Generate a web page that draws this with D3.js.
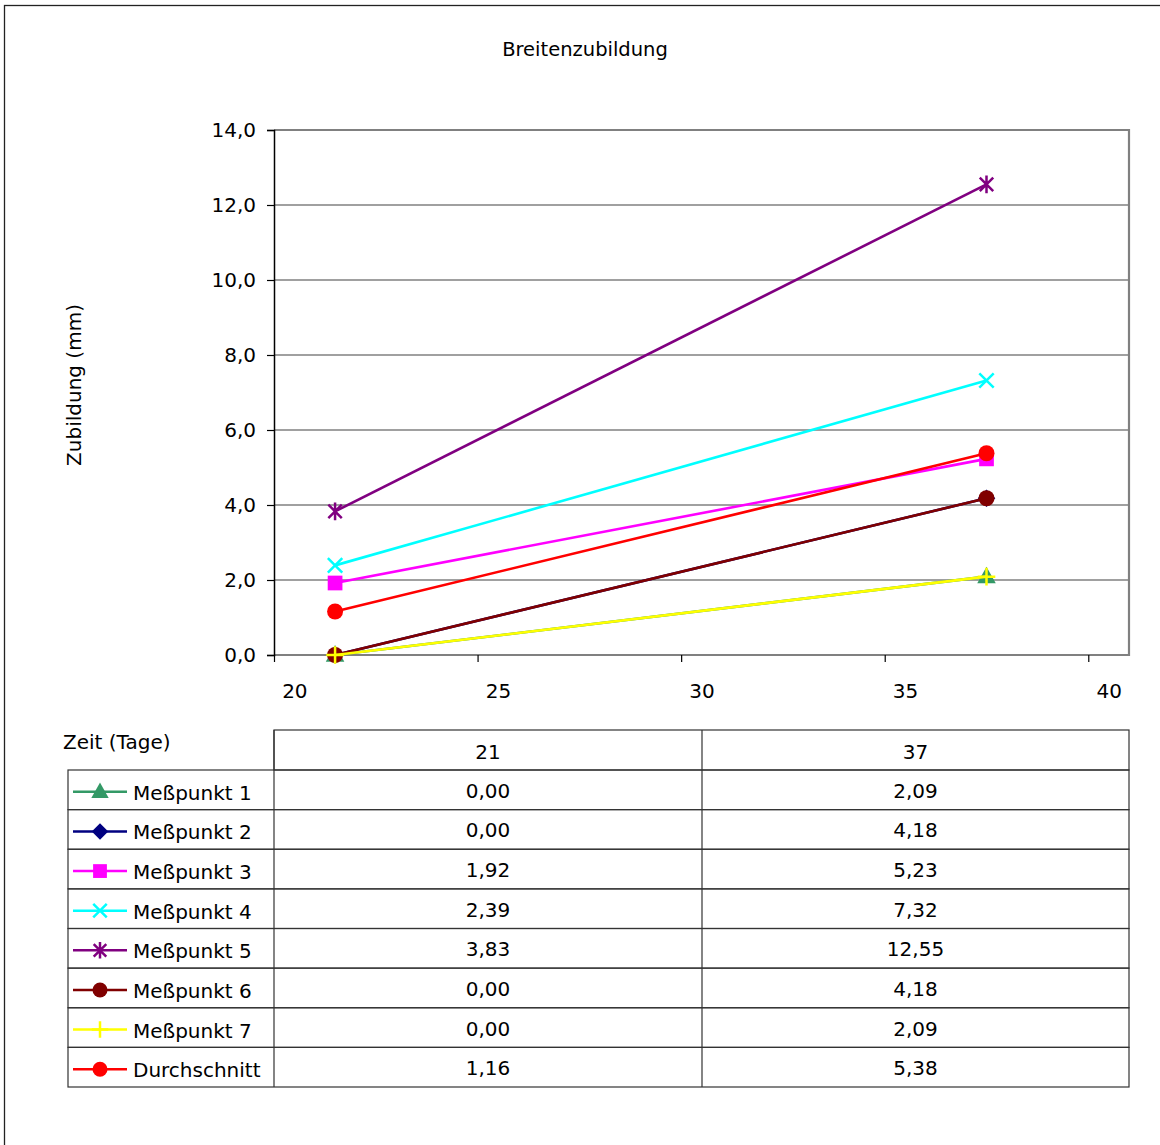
<!DOCTYPE html>
<html><head><meta charset="utf-8">
<script src="https://cdn.jsdelivr.net/npm/d3@7"></script>
<style>
body{margin:0;background:#fff;}
text{font-family:"DejaVu Sans",sans-serif;fill:#000;}
</style></head><body>
<svg id="c" width="1160" height="1145"></svg>
<script>
const days = [21, 37];
const seriesNames = ["Meßpunkt 1","Meßpunkt 2","Meßpunkt 3","Meßpunkt 4","Meßpunkt 5","Meßpunkt 6","Meßpunkt 7","Durchschnitt"];
const mp1 = [0.00, 2.09];
const mp2 = [0.00, 4.18];
const mp3 = [1.92, 5.23];
const mp4 = [2.39, 7.32];
const mp5 = [3.83, 12.55];
const mp6 = [0.00, 4.18];
const mp7 = [0.00, 2.09];
const avg = [1.16, 5.38];
const yTicks = [0,2,4,6,8,10,12,14];
const xTicks = [20,25,30,35,40];
const seriesValues = [mp1,mp2,mp3,mp4,mp5,mp6,mp7,avg];
const colors = ["#339966","#000080","#FF00FF","#00FFFF","#800080","#800000","#FFFF00","#FF0000"];
const markers = ["triangle","diamond","square","x","star","circle","plus","circle"];

const FONT = '"DejaVu Sans",sans-serif';
const svg = d3.select("#c");
const fmt1 = v => v.toFixed(1).replace(".", ",");
const fmt2 = v => v.toFixed(2).replace(".", ",");

// outer frame
svg.append("rect").attr("x",4.5).attr("y",5.5).attr("width",1170).attr("height",1160)
  .attr("fill","none").attr("stroke","#222").attr("stroke-width",1.3);

const L=274,R=1129,T=130,B=655;
const x = d3.scaleLinear().domain([19.5,40.5]).range([L,R]);
const y = d3.scaleLinear().domain([0,14]).range([B,T]);

svg.append("text").attr("x",585).attr("y",56).attr("text-anchor","middle")
  .attr("font-size",19.5).text("Breitenzubildung");

// gridlines
svg.append("g").selectAll("line").data(yTicks.filter(d=>d>0)).join("line")
  .attr("x1",L).attr("x2",R).attr("y1",d=>y(d)).attr("y2",d=>y(d))
  .attr("stroke","#808080").attr("stroke-width",1.6);
// plot border
svg.append("path").attr("d",`M${L},${T}H${R}V${B}H${L}`).attr("fill","none")
  .attr("stroke","#808080").attr("stroke-width",2.2);

// y axis
const yAxis = d3.axisLeft(y).tickValues(yTicks).tickFormat(fmt1).tickSize(7).tickPadding(11);
const gy = svg.append("g").attr("transform",`translate(${L},0)`).call(yAxis);
gy.select(".domain").attr("stroke","#000").attr("stroke-width",1.5);
gy.selectAll(".tick line").attr("stroke","#000").attr("stroke-width",1.2);
gy.selectAll("text").attr("font-size",20).style("font-family",FONT);

// x axis: tick marks offset half a unit left of labels
const xAxis = d3.axisBottom(x).tickValues(xTicks).tickSize(0).tickPadding(29);
const gx = svg.append("g").attr("transform",`translate(0,${B})`).call(xAxis);
gx.select(".domain").remove();
gx.selectAll("text").attr("font-size",20).style("font-family",FONT);
gx.selectAll(".tick").append("line").attr("x1",x(19.5)-x(20)).attr("x2",x(19.5)-x(20))
  .attr("y1",0).attr("y2",7).attr("stroke","#000").attr("stroke-width",1.2);

svg.append("text").attr("transform","translate(81,385) rotate(-90)").attr("text-anchor","middle")
  .attr("font-size",20).text("Zubildung (mm)");

function marker(g, type, color, s){
  const sw = 2.5;
  if(type==="triangle"){
    g.append("path").attr("d",`M0,${-s*0.62}L${s*0.58},${s*0.42}L${-s*0.58},${s*0.42}Z`).attr("fill",color);
  } else if(type==="diamond"){
    g.append("path").attr("d",`M0,${-s*0.55}L${s*0.55},0L0,${s*0.55}L${-s*0.55},0Z`).attr("fill",color);
  } else if(type==="square"){
    g.append("rect").attr("x",-s*0.46).attr("y",-s*0.46).attr("width",s*0.92).attr("height",s*0.92).attr("fill",color);
  } else if(type==="circle"){
    g.append("circle").attr("r",s*0.5).attr("fill",color);
  } else if(type==="x"){
    const h=s*0.45;
    g.append("path").attr("d",`M${-h},${-h}L${h},${h}M${-h},${h}L${h},${-h}`).attr("stroke",color).attr("stroke-width",sw);
  } else if(type==="star"){
    const h=s*0.42;
    g.append("path").attr("d",`M${-h},${-h}L${h},${h}M${-h},${h}L${h},${-h}M0,${-s*0.55}V${s*0.55}`).attr("stroke",color).attr("stroke-width",sw);
  } else if(type==="plus"){
    const h=s*0.55;
    g.append("path").attr("d",`M${-h},0H${h}M0,${-h}V${h}`).attr("stroke",color).attr("stroke-width",sw);
  }
}

const line = d3.line().x((d,i)=>x(days[i])).y(d=>y(d));
seriesValues.forEach((vals,si)=>{
  const g = svg.append("g");
  g.append("path").attr("d",line(vals)).attr("fill","none").attr("stroke",colors[si]).attr("stroke-width",2.6);
  vals.forEach((v,i)=>{
    const mg = g.append("g").attr("transform",`translate(${x(days[i])},${y(v)})`);
    marker(mg, markers[si], colors[si], 16);
  });
});

// data table
const tL=68, c1=274, c2=702, c3=1129, hT=730, rT=770, rowH=(1087-770)/8;
const tg = svg.append("g");
const st = "#333";
tg.append("text").attr("x",63).attr("y",749).attr("font-size",20).text("Zeit (Tage)");
tg.append("rect").attr("x",c1).attr("y",hT).attr("width",c3-c1).attr("height",rT-hT).attr("fill","none").attr("stroke",st).attr("stroke-width",1.2);
tg.append("line").attr("x1",c2).attr("x2",c2).attr("y1",hT).attr("y2",rT+rowH*8).attr("stroke",st).attr("stroke-width",1.2);
days.forEach((d,i)=>{
  tg.append("text").attr("x",[ (c1+c2)/2,(c2+c3)/2 ][i]).attr("y",(hT+rT)/2+9).attr("text-anchor","middle").attr("font-size",20).text(d);
});
seriesNames.forEach((n,si)=>{
  const yy = rT+si*rowH;
  tg.append("rect").attr("x",tL).attr("y",yy).attr("width",c3-tL).attr("height",rowH).attr("fill","none").attr("stroke",st).attr("stroke-width",1.2);
  const cy = yy+rowH/2;
  tg.append("line").attr("x1",73).attr("x2",127).attr("y1",cy+2).attr("y2",cy+2).attr("stroke",colors[si]).attr("stroke-width",2.6);
  marker(tg.append("g").attr("transform",`translate(100,${cy+2})`), markers[si], colors[si], 15);
  tg.append("text").attr("x",133).attr("y",cy+10).attr("font-size",20).text(n);
  seriesValues[si].forEach((v,i)=>{
    tg.append("text").attr("x",[ (c1+c2)/2,(c2+c3)/2 ][i]).attr("y",cy+8).attr("text-anchor","middle").attr("font-size",20).text(fmt2(v));
  });
});
tg.append("line").attr("x1",c1).attr("x2",c1).attr("y1",hT).attr("y2",rT+rowH*8).attr("stroke",st).attr("stroke-width",1.2);
</script></body></html>
